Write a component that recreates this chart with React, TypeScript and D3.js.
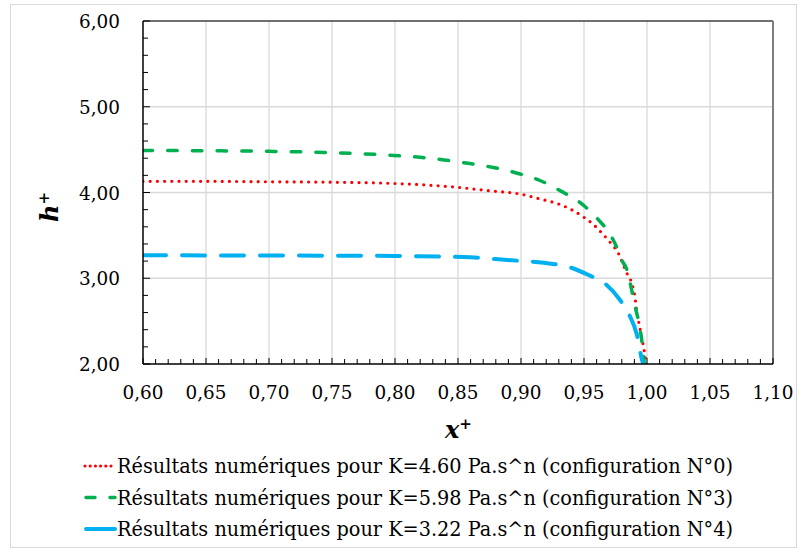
import React from "react";
import * as d3 from "d3";

const xTicks = [0.6, 0.65, 0.7, 0.75, 0.8, 0.85, 0.9, 0.95, 1.0, 1.05, 1.1];
const yTicks = [2, 3, 4, 5, 6];

const redX = [0.60, 0.65, 0.70, 0.75, 0.80, 0.85, 0.875, 0.90, 0.915, 0.93, 0.94, 0.95, 0.958, 0.963, 0.971, 0.9775, 0.984, 0.987, 0.990, 0.992, 0.9946, 0.9968, 0.9986, 1.0];
const redY = [4.13, 4.13, 4.125, 4.12, 4.105, 4.06, 4.02, 3.98, 3.925, 3.865, 3.80, 3.71, 3.62, 3.545, 3.415, 3.285, 3.06, 2.98, 2.82, 2.61, 2.40, 2.24, 2.08, 1.98];

const greenX = [0.60, 0.65, 0.70, 0.75, 0.797, 0.82, 0.839, 0.858, 0.877, 0.897, 0.915, 0.9325, 0.948, 0.961, 0.972, 0.9757, 0.980, 0.984, 0.9867, 0.9906, 0.9946, 0.9968, 0.998];
const greenY = [4.49, 4.487, 4.48, 4.465, 4.434, 4.41, 4.38, 4.34, 4.295, 4.225, 4.14, 4.01, 3.87, 3.69, 3.48, 3.37, 3.21, 3.10, 2.94, 2.67, 2.40, 2.16, 1.98];

const blueX = [0.60, 0.70, 0.80, 0.86, 0.889, 0.918, 0.939, 0.9548, 0.9656, 0.9786, 0.9854, 0.992, 0.996, 0.9975];
const blueY = [3.268, 3.265, 3.26, 3.244, 3.213, 3.18, 3.127, 3.03, 2.95, 2.746, 2.59, 2.34, 2.05, 1.98];

const seriesNames = [
  "Résultats numériques pour K=4.60 Pa.s^n (configuration N°0)",
  "Résultats numériques pour K=5.98 Pa.s^n (configuration N°3)",
  "Résultats numériques pour K=3.22 Pa.s^n (configuration N°4)",
];

const W = 798, H = 549;
const L = 143, R = 773, T = 21, B = 364;
const FONT = "'DejaVu Serif', serif";

export default function App() {
  const x = d3.scaleLinear().domain([0.6, 1.1]).range([L, R]);
  const y = d3.scaleLinear().domain([2, 6]).range([B, T]);
  const fmt = (v: number) => v.toFixed(2).replace(".", ",");

  const line = d3.line<[number, number]>().x(d => x(d[0])).y(d => y(d[1])).curve(d3.curveMonotoneX);
  const zip = (a: number[], b: number[]) => a.map((v, i) => [v, b[i]] as [number, number]);

  const series = [
    { d: zip(redX, redY), color: "#FF0000", w: 3.2, dash: "0 7.2", cap: "round" },
    { d: zip(greenX, greenY), color: "#00B050", w: 3.5, dash: "9.5 15.2", cap: "round" },
    { d: zip(blueX, blueY), color: "#00B0F0", w: 4, dash: "23 16", cap: "round" },
  ];

  const minorX = d3.range(0, 51).map(i => 0.6 + i * 0.01);
  const minorY = d3.range(0, 21).map(i => 2 + i * 0.2);

  return (
    <svg width={W} height={H} style={{ position: "absolute", left: 0, top: 0, background: "#fff" }}>
      <rect x={10.5} y={4.5} width={786} height={543} fill="#fff" stroke="#d9d9d9" />
      <defs>
        <clipPath id="plot"><rect x={L} y={T} width={R - L} height={B - T} /></clipPath>
      </defs>
      {xTicks.slice(1, -1).map(t => (
        <line key={"gx" + t} x1={x(t)} x2={x(t)} y1={T} y2={B} stroke="#d9d9d9" strokeWidth={1.3} />
      ))}
      {yTicks.slice(1, -1).map(t => (
        <line key={"gy" + t} x1={L} x2={R} y1={y(t)} y2={y(t)} stroke="#d9d9d9" strokeWidth={1.3} />
      ))}
      <line x1={L} x2={R} y1={T} y2={T} stroke="#404040" strokeWidth={1.3} />
      <line x1={R} x2={R} y1={T} y2={B} stroke="#7f7f7f" strokeWidth={2} />
      <g clipPath="url(#plot)">
        {series.map((s, i) => (
          <path key={i} d={line(s.d) || ""} fill="none" stroke={s.color} strokeWidth={s.w}
            strokeDasharray={s.dash} strokeLinecap={s.cap as any} />
        ))}
      </g>
      <line x1={L} x2={L} y1={T} y2={B} stroke="#000" strokeWidth={1.5} />
      <line x1={L} x2={R} y1={B} y2={B} stroke="#000" strokeWidth={1.5} />
      {minorX.map((t, i) => (
        <line key={"mx" + i} x1={x(t)} x2={x(t)} y1={B} y2={B - (i % 5 === 0 ? 6 : 5)} stroke="#000" strokeWidth={1} />
      ))}
      {minorY.map((t, i) => (
        <line key={"my" + i} x1={L} x2={L + (i % 5 === 0 ? 7 : 5)} y1={y(t)} y2={y(t)} stroke="#000" strokeWidth={1} />
      ))}
      {xTicks.map(t => (
        <text key={"lx" + t} x={x(t)} y={399} textAnchor="middle" fontFamily={FONT} fontSize={19} fill="#000" textLength={41} lengthAdjust="spacingAndGlyphs">{fmt(t)}</text>
      ))}
      {yTicks.map(t => (
        <text key={"ly" + t} x={120} y={y(t) + 7} textAnchor="end" fontFamily={FONT} fontSize={19} fill="#000" textLength={41} lengthAdjust="spacingAndGlyphs">{fmt(t)}</text>
      ))}
      <text x={445} y={438} fontFamily={FONT} fontSize={24} fontWeight="bold" fontStyle="italic" fill="#000">
        x<tspan dy={-9} fontSize={15}>+</tspan>
      </text>
      <text transform="translate(58,222) rotate(-90)" fontFamily={FONT} fontSize={24} fontWeight="bold" fontStyle="italic" fill="#000">
        h<tspan dy={-9} fontSize={15}>+</tspan>
      </text>
      {series.map((s, i) => {
        const cy = 466 + i * 31.5;
        return (
          <g key={"lg" + i}>
            <line x1={i === 0 ? 85 : 86} x2={115} y1={cy} y2={cy} stroke={s.color} strokeWidth={s.w}
              strokeDasharray={i === 0 ? "0 5.2" : i === 1 ? "9 15" : "none"} strokeLinecap={s.cap as any} />
            <text x={117} y={cy + 7} fontFamily={FONT} fontSize={19.5} fill="#000" textLength={616} lengthAdjust="spacingAndGlyphs">{seriesNames[i]}</text>
          </g>
        );
      })}
    </svg>
  );
}
